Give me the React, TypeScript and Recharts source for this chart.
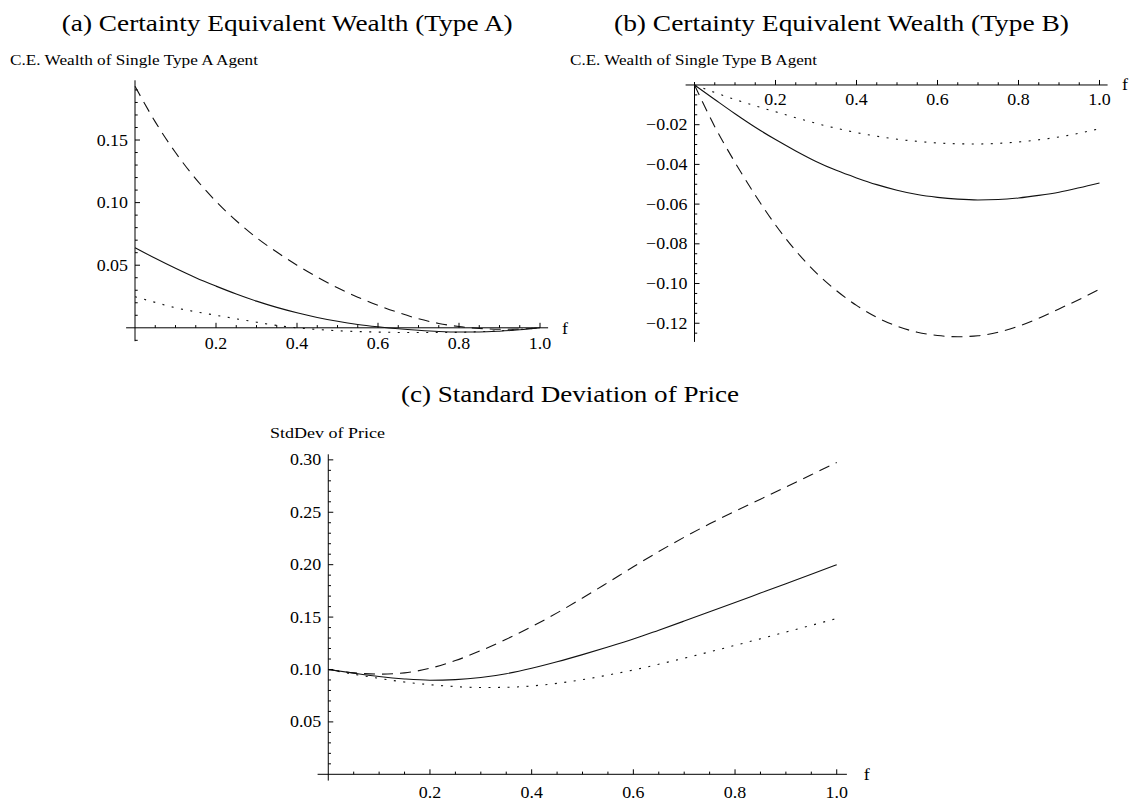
import React from "react";
import { LineChart, Line, XAxis, YAxis, ReferenceLine } from "recharts";

// f grid shared by all three panels
const fValues = [0, 0.05, 0.1, 0.15, 0.2, 0.25, 0.3, 0.35, 0.4, 0.45, 0.5, 0.55, 0.6, 0.65, 0.7, 0.75, 0.8, 0.85, 0.9, 0.95, 1.0];

// (a) C.E. wealth of single type A agent
const aSolid = [0.064, 0.0555, 0.0475, 0.04, 0.0333, 0.027, 0.0213, 0.0163, 0.012, 0.0083, 0.0052, 0.0027, 0.0008, -0.0008, -0.002, -0.0029, -0.0033, -0.0033, -0.0027, -0.0016, 0];
const aDashed = [0.193, 0.1645, 0.14, 0.119, 0.101, 0.0855, 0.072, 0.0605, 0.05, 0.0405, 0.032, 0.0245, 0.018, 0.0122, 0.0072, 0.0035, 0.001, -0.0005, -0.0012, -0.001, 0];
const aDotted = [0.0248, 0.0203, 0.016, 0.0128, 0.01, 0.0072, 0.0045, 0.0019, 0, -0.0013, -0.0023, -0.003, -0.0034, -0.0037, -0.0038, -0.0038, -0.0036, -0.0031, -0.0024, -0.0013, 0];

// (b) C.E. wealth of single type B agent
const bSolid = [0, -0.0073, -0.0145, -0.0213, -0.0275, -0.0332, -0.0385, -0.043, -0.0468, -0.0502, -0.053, -0.0552, -0.0566, -0.0575, -0.0579, -0.0577, -0.0569, -0.0556, -0.054, -0.0518, -0.0494];
const bDashed = [0, -0.021, -0.039, -0.0555, -0.0705, -0.0835, -0.0945, -0.1035, -0.111, -0.117, -0.1215, -0.1245, -0.1262, -0.1268, -0.1263, -0.1245, -0.1215, -0.1175, -0.1128, -0.108, -0.1029];
const bDotted = [0, -0.0038, -0.0073, -0.0105, -0.0135, -0.0165, -0.0193, -0.0218, -0.024, -0.0258, -0.0273, -0.0284, -0.0292, -0.0296, -0.0297, -0.0294, -0.0287, -0.0276, -0.0262, -0.0243, -0.022];

// (c) standard deviation of price
const cSolid = [0.1, 0.0965, 0.0933, 0.091, 0.0898, 0.0903, 0.0923, 0.096, 0.1012, 0.1074, 0.1142, 0.1214, 0.129, 0.1375, 0.1462, 0.155, 0.1639, 0.1729, 0.1819, 0.1909, 0.2];
const cDashed = [0.1, 0.0968, 0.0956, 0.0968, 0.1012, 0.1085, 0.118, 0.1288, 0.1408, 0.154, 0.1682, 0.183, 0.198, 0.2125, 0.2262, 0.239, 0.251, 0.2625, 0.274, 0.2858, 0.2974];
const cDotted = [0.1, 0.0955, 0.0915, 0.088, 0.0855, 0.0837, 0.0828, 0.083, 0.0843, 0.0868, 0.0903, 0.0947, 0.0995, 0.105, 0.1108, 0.1168, 0.123, 0.1293, 0.1357, 0.1421, 0.1487];

// labelled ticks
const xLabels = [0.2, 0.4, 0.6, 0.8, 1.0];
const aYLabels = [0.05, 0.1, 0.15];
const bYLabels = [-0.02, -0.04, -0.06, -0.08, -0.1, -0.12];
const cYLabels = [0.05, 0.1, 0.15, 0.2, 0.25, 0.3];

const FONT = "'Liberation Serif', 'Times New Roman', serif";

function steps(from: number, to: number, step: number) {
  const out: number[] = [];
  const n = Math.round((to - from) / step);
  for (let i = 0; i <= n; i++) {
    const v = Math.round((from + i * step) * 10000) / 10000;
    if (Math.abs(v) > 1e-9) out.push(v);
  }
  return out;
}

interface Panel {
  left: number;
  top: number;
  width: number;
  height: number;
  margin: { top: number; right: number; bottom: number; left: number };
  xDomain: [number, number];
  yDomain: [number, number];
  xTicks: number[];
  yTicks: number[];
  yLabels: number[];
  xLabelDy: number;
  solid: number[];
  dashed: number[];
  dotted: number[];
}

// axes take 1px each (recharts skips drawing a 0-sized axis)
const panels: Panel[] = [
  {
    left: 0,
    top: 0,
    width: 600,
    height: 380,
    margin: { top: 80.3, right: 51.9, bottom: 37.8, left: 125.1 },
    xDomain: [-0.022, 1.02],
    yDomain: [-0.0107, 0.1977],
    xTicks: steps(0.05, 1.0, 0.05),
    yTicks: steps(-0.01, 0.19, 0.01),
    yLabels: aYLabels,
    xLabelDy: 21.5,
    solid: aSolid,
    dashed: aDashed,
    dotted: aDotted,
  },
  {
    left: 600,
    top: 0,
    width: 532,
    height: 380,
    margin: { top: 82, right: 24.4, bottom: 37.1, left: 84.6 },
    xDomain: [-0.022, 1.02],
    yDomain: [-0.1294, 0.0015],
    xTicks: steps(0.05, 1.0, 0.05),
    yTicks: steps(-0.125, -0.005, 0.005),
    yLabels: bYLabels,
    xLabelDy: 20,
    solid: bSolid,
    dashed: bDashed,
    dotted: bDotted,
  },
  {
    left: 240,
    top: 400,
    width: 660,
    height: 401,
    margin: { top: 54.3, right: 53.1, bottom: 19.4, left: 76.6 },
    xDomain: [-0.021, 1.02],
    yDomain: [-0.006, 0.3053],
    xTicks: steps(0.05, 1.0, 0.05),
    yTicks: steps(0.01, 0.3, 0.01),
    yLabels: cYLabels,
    xLabelDy: 23.5,
    solid: cSolid,
    dashed: cDashed,
    dotted: cDotted,
  },
];

function plotBox(p: Panel) {
  const left = p.margin.left + 1;
  const top = p.margin.top;
  const w = p.width - left - p.margin.right;
  const h = p.height - top - p.margin.bottom - 1;
  return { left, top, w, h };
}

function zeroY(p: Panel) {
  const b = plotBox(p);
  return b.top + (p.yDomain[1] / (p.yDomain[1] - p.yDomain[0])) * b.h;
}

function zeroX(p: Panel) {
  const b = plotBox(p);
  return b.left + (-p.xDomain[0] / (p.xDomain[1] - p.xDomain[0])) * b.w;
}

const has = (list: number[], v: number) => list.some((t) => Math.abs(t - v) < 1e-9);

function fmtY(v: number) {
  return v < 0 ? "\u2212" + Math.abs(v).toFixed(2) : v.toFixed(2);
}

function makeXTick(p: Panel) {
  const y0 = zeroY(p);
  return (props: any) => {
    const x = props.x;
    const v = props.payload.value;
    const major = has(xLabels, v);
    return (
      <g>
        <line x1={x} x2={x} y1={y0} y2={y0 - (major ? 5 : 2.7)} stroke="#000" strokeWidth={1} />
        {major && (
          <text
            transform={`translate(${x},${y0 + p.xLabelDy}) scale(1.12,1)`}
            textAnchor="middle"
            fontFamily={FONT}
            fontSize={16}
            fill="#000"
          >
            {v.toFixed(1)}
          </text>
        )}
      </g>
    );
  };
}

function makeYTick(p: Panel) {
  const x0 = zeroX(p);
  return (props: any) => {
    const y = props.y;
    const v = props.payload.value;
    const major = has(p.yLabels, v);
    return (
      <g>
        <line x1={x0} x2={x0 + (major ? 5 : 2.7)} y1={y} y2={y} stroke="#000" strokeWidth={1} />
        {major && (
          <text
            transform={`translate(${x0 - 7},${y + 5.5}) scale(1.12,1)`}
            textAnchor="end"
            fontFamily={FONT}
            fontSize={16}
            fill="#000"
          >
            {fmtY(v)}
          </text>
        )}
      </g>
    );
  };
}

function PanelChart({ p }: { p: Panel }) {
  const rows = fValues.map((f, i) => ({
    f,
    solid: p.solid[i],
    dashed: p.dashed[i],
    dotted: p.dotted[i],
  }));

  return (
    <div style={{ position: "absolute", left: p.left, top: p.top }}>
      <LineChart width={p.width} height={p.height} data={rows} margin={p.margin}>
        <XAxis
          dataKey="f"
          type="number"
          domain={p.xDomain}
          allowDataOverflow
          ticks={p.xTicks}
          interval={0}
          tick={makeXTick(p)}
          tickLine={false}
          axisLine={false}
          tickSize={0}
          tickMargin={0}
          height={1}
        />
        <YAxis
          type="number"
          domain={p.yDomain}
          allowDataOverflow
          ticks={p.yTicks}
          interval={0}
          tick={makeYTick(p)}
          tickLine={false}
          axisLine={false}
          tickSize={0}
          tickMargin={0}
          width={1}
        />
        <ReferenceLine y={0} stroke="#000" strokeWidth={1} />
        <ReferenceLine x={0} stroke="#000" strokeWidth={1} />
        <Line type="monotone" dataKey="dashed" stroke="#111" strokeWidth={1.1} strokeDasharray="11 7" dot={false} isAnimationActive={false} />
        <Line type="monotone" dataKey="solid" stroke="#111" strokeWidth={1.1} dot={false} isAnimationActive={false} />
        <Line type="monotone" dataKey="dotted" stroke="#111" strokeWidth={1.1} strokeDasharray="2 7.5" dot={false} isAnimationActive={false} />
      </LineChart>
    </div>
  );
}

export default function App() {
  return (
    <div style={{ position: "absolute", left: 0, top: 0, width: 1132, height: 801, background: "#fff", overflow: "hidden" }}>
      {panels.map((p, i) => (
        <PanelChart key={i} p={p} />
      ))}
      <svg width={1132} height={801} style={{ position: "absolute", left: 0, top: 0, pointerEvents: "none" }}>
        <g fontFamily={FONT} fill="#000">
          <text x={61.7} y={31} fontSize={24} textLength={451} lengthAdjust="spacingAndGlyphs">
            (a) Certainty Equivalent Wealth (Type A)
          </text>
          <text x={614} y={31} fontSize={24} textLength={455} lengthAdjust="spacingAndGlyphs">
            (b) Certainty Equivalent Wealth (Type B)
          </text>
          <text x={401} y={402.3} fontSize={24} textLength={338} lengthAdjust="spacingAndGlyphs">
            (c) Standard Deviation of Price
          </text>
          <text x={10} y={65} fontSize={15} textLength={248} lengthAdjust="spacingAndGlyphs">
            C.E. Wealth of Single Type A Agent
          </text>
          <text x={570} y={65} fontSize={15} textLength={247} lengthAdjust="spacingAndGlyphs">
            C.E. Wealth of Single Type B Agent
          </text>
          <text x={270} y={437.7} fontSize={15} textLength={115} lengthAdjust="spacingAndGlyphs">
            StdDev of Price
          </text>
          <text transform="translate(565,334) scale(1.12,1)" textAnchor="middle" fontSize={16}>f</text>
          <text transform="translate(1125,90) scale(1.12,1)" textAnchor="middle" fontSize={16}>f</text>
          <text transform="translate(866.7,780) scale(1.12,1)" textAnchor="middle" fontSize={16}>f</text>
        </g>
      </svg>
    </div>
  );
}
